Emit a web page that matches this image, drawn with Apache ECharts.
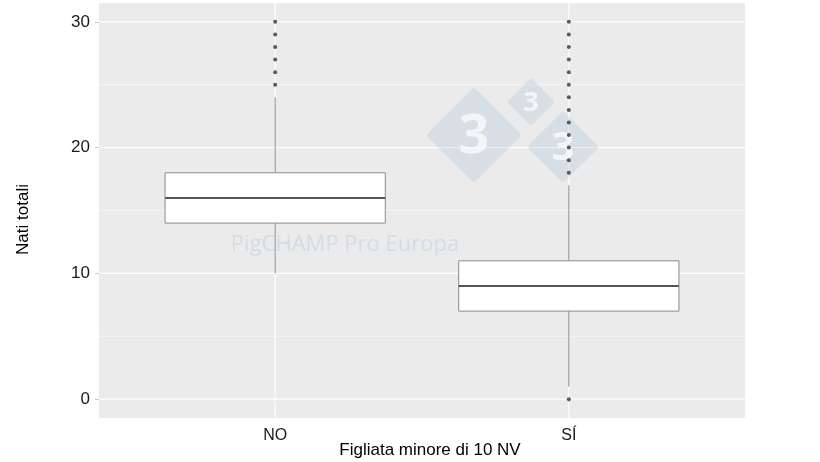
<!DOCTYPE html>
<html>
<head>
<meta charset="utf-8">
<script src="https://cdn.jsdelivr.net/npm/echarts@6/dist/echarts.min.js"></script>
<style>html,body{margin:0;padding:0;background:#fff}#c{width:820px;height:462px}</style>
</head>
<body>
<div id="c"></div>
<script>
// ---- data ----
var categories = ['NO', 'SÍ'];
var categoryPos = [1, 2];
// [whiskerLow, Q1, median, Q3, whiskerHigh]
var boxNO = [10, 14, 16, 18, 24];
var boxSI = [1, 7, 9, 11, 17];
var outliersNO = [25, 26, 27, 28, 29, 30];
var outliersSI = [0, 18, 19, 20, 21, 22, 23, 24, 25, 26, 27, 28, 29, 30];
var yTicks = [0, 10, 20, 30];
var yMinorTicks = [5, 15, 25];
var xTitle = 'Figliata minore di 10 NV';
var yTitle = 'Nati totali';

// ---- build ----
var boxes = [[categoryPos[0]].concat(boxNO), [categoryPos[1]].concat(boxSI)];
var outliers = [];
outliersNO.forEach(function (v) { outliers.push([categoryPos[0], v]); });
outliersSI.forEach(function (v) { outliers.push([categoryPos[1], v]); });

var gridLines = [];
yTicks.forEach(function (v) { gridLines.push(['h', v, 1.1]); });
yMinorTicks.forEach(function (v) { gridLines.push(['h', v, 0.55]); });
categoryPos.forEach(function (v) { gridLines.push(['v', v, 1.1]); });

var chart = echarts.init(document.getElementById('c'));
var font = 'Liberation Sans, Arial, sans-serif';

function diamond(cx, cy, half, fs) {
  var s = half * Math.SQRT2;
  return [{
    type: 'rect', x: cx, y: cy, rotation: Math.PI / 4, z: 2, silent: true,
    shape: { x: -s / 2, y: -s / 2, width: s, height: s, r: s * 0.06 },
    style: { fill: 'rgba(150,185,210,0.24)' }
  }, {
    type: 'text', x: cx, y: cy + fs * 0.04, z: 2, silent: true,
    style: { text: '3', fontSize: fs, fontWeight: 'bold', fontFamily: 'Open Sans, sans-serif',
      fill: 'rgba(255,255,255,0.7)', align: 'center', verticalAlign: 'middle' }
  }];
}

var option = {
  animation: false,
  grid: { left: 99, right: 75, top: 3, bottom: 44, show: true, backgroundColor: '#EBEBEB', borderWidth: 0,
    containLabel: false, outerBoundsMode: 'none' },
  xAxis: {
    type: 'value', min: 0.4, max: 2.6,
    name: xTitle, nameLocation: 'middle', nameGap: 24, nameMoveOverlap: false,
    nameTextStyle: { color: '#000', fontSize: 17, fontFamily: font, padding: [0, 0, 0, 16] },
    axisLine: { show: false },
    axisTick: { show: true, customValues: categoryPos, length: 4, lineStyle: { color: '#c8c8c8', width: 1 } },
    axisLabel: { show: true, customValues: categoryPos, color: '#1a1a1a', fontSize: 16, fontFamily: font, margin: 10,
      formatter: function (v) { var i = categoryPos.indexOf(v); return i >= 0 ? categories[i] : ''; } },
    splitLine: { show: false }
  },
  yAxis: {
    type: 'value', min: -1.5, max: 31.5,
    name: yTitle, nameLocation: 'middle', nameGap: 67, nameRotate: 90, nameMoveOverlap: false,
    nameTextStyle: { color: '#000', fontSize: 17, fontFamily: font, padding: [0, 0, 0, -18] },
    axisLine: { show: false },
    axisTick: { show: true, customValues: yTicks, length: 4, lineStyle: { color: '#c8c8c8', width: 1 } },
    axisLabel: { show: true, customValues: yTicks, color: '#1a1a1a', fontSize: 17, fontFamily: font, margin: 9 },
    splitLine: { show: false }
  },
  graphic: [].concat(
    diamond(474, 135, 48, 54),
    diamond(531, 102, 24, 27),
    diamond(563, 147, 36, 40),
    [{
      type: 'text', x: 345, y: 245, z: 2, silent: true,
      style: { text: 'PigCHAMP Pro Europa', fontSize: 22, fontFamily: 'Open Sans, sans-serif',
        fill: 'rgba(160,190,220,0.32)', align: 'center', verticalAlign: 'middle' }
    }]
  ),
  series: [
    {
      type: 'custom', z: 1, silent: true,
      data: gridLines,
      encode: { x: 1 },
      renderItem: function (params, api) {
        var t = gridLines[params.dataIndex][0];
        var v = api.value(1);
        var w = api.value(2);
        var cs = params.coordSys;
        var shape;
        if (t === 'h') {
          var y = api.coord([1, v])[1];
          shape = { x1: cs.x, y1: y, x2: cs.x + cs.width, y2: y };
        } else {
          var x = api.coord([v, 0])[0];
          shape = { x1: x, y1: cs.y, x2: x, y2: cs.y + cs.height };
        }
        return { type: 'line', shape: shape, style: { stroke: '#ffffff', lineWidth: w } };
      }
    },
    {
      type: 'custom', z: 3,
      data: boxes,
      encode: { x: 0, y: [1, 2, 3, 4, 5] },
      renderItem: function (params, api) {
        var x = api.value(0);
        var half = api.size([0.75, 0])[0] / 2;
        var cx = api.coord([x, 0])[0];
        var yLow = api.coord([x, api.value(1)])[1];
        var yQ1 = api.coord([x, api.value(2)])[1];
        var yMed = api.coord([x, api.value(3)])[1];
        var yQ3 = api.coord([x, api.value(4)])[1];
        var yHigh = api.coord([x, api.value(5)])[1];
        var stroke = '#8a8a8a';
        return {
          type: 'group',
          children: [
            { type: 'line', shape: { x1: cx, y1: yHigh, x2: cx, y2: yQ3 }, style: { stroke: stroke, lineWidth: 1 } },
            { type: 'line', shape: { x1: cx, y1: yQ1, x2: cx, y2: yLow }, style: { stroke: stroke, lineWidth: 1 } },
            { type: 'rect', shape: { x: cx - half, y: yQ3, width: 2 * half, height: yQ1 - yQ3 },
              style: { fill: '#ffffff', stroke: stroke, lineWidth: 1 } },
            { type: 'line', shape: { x1: cx - half, y1: yMed, x2: cx + half, y2: yMed },
              style: { stroke: '#555555', lineWidth: 2 } }
          ]
        };
      }
    },
    {
      type: 'scatter', z: 4,
      data: outliers,
      symbol: 'circle', symbolSize: 4,
      itemStyle: { color: '#333333' }
    }
  ]
};
chart.setOption(option);
</script>
</body>
</html>
